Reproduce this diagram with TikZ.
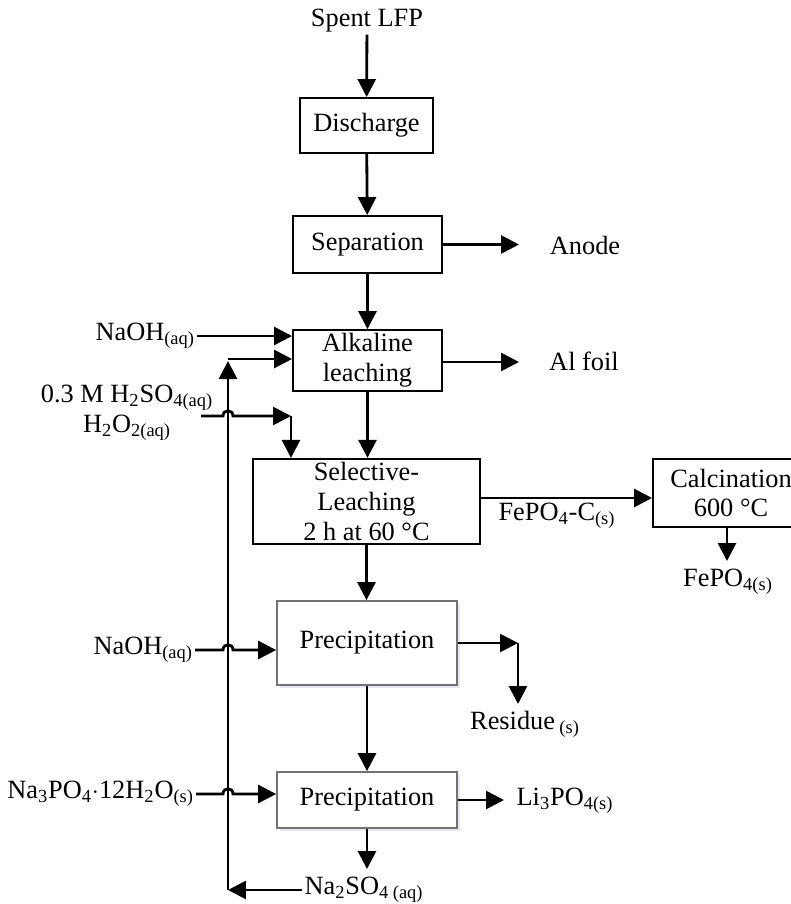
\documentclass[tikz,border=0pt]{standalone}
\usepackage{fontspec}
\setmainfont{Liberation Serif}
\usetikzlibrary{arrows.meta, shadows}

\begin{document}
\begin{tikzpicture}
        [x=0.02cm, y=-0.02cm,
        font=\fontsize{15}{17}\selectfont,
        box/.style={draw=black, line width=1.1pt, align=center, inner sep=2pt},
        softbox/.style={draw=black!55, line width=1pt, fill=white, inner sep=2pt,
          drop shadow={opacity=0.35, fill=blue!30!gray!40, shadow xshift=1.5pt, shadow yshift=-1.5pt}},
        lbl/.style={inner sep=1pt, align=center},
        arr/.style={-{Triangle[length=0.36cm, width=0.36cm]}, line width=1.6pt}]
        \clip (0,0) rectangle (791,904);
        % process boxes
        \node (spent) at (367,21) [lbl] {Spent LFP};
        \node (dis) at (366.5,125.5) [box, minimum width=2.66cm, minimum height=1.1cm] {Discharge};
        \node (sep) at (367.5,244.5) [box, minimum width=2.98cm, minimum height=1.14cm] {Separation};
        \node (alk) at (367.5,360.5) [box, minimum width=2.98cm, minimum height=1.14cm] {Alkaline\\leaching};
        \node (sel) at (366.5,501.5) [box, minimum width=4.54cm, minimum height=1.66cm] {Selective-\\Leaching\\2 h at 60 °C};
        \node (calc) at (731,493) [box, minimum width=3.12cm, minimum height=1.36cm] {Calcination\\600 °C};
        \node (pre1) at (367,643) [softbox, minimum width=3.6cm, minimum height=1.68cm] {Precipitation};
        \node (pre2) at (367,800) [softbox, minimum width=3.6cm, minimum height=1.12cm] {Precipitation};
        % products
        \node (anode) at (585,245) [lbl] {Anode};
        \node (alfoil) at (584,361) [lbl] {Al foil};
        \node (fepo4c) at (557,516) [lbl] {FePO\textsubscript{4}-C\textsubscript{(s)}};
        \node (fepo4) at (728,582) [lbl] {FePO\textsubscript{4(s)}};
        \node (resid) at (525,724) [lbl] {Residue\,\textsubscript{(s)}};
        \node (li3po4) at (565,801) [lbl] {Li\textsubscript{3}PO\textsubscript{4(s)}};
        \node (na2so4) at (364,890) [lbl] {Na\textsubscript{2}SO\textsubscript{4 (aq)}};
        % reagents
        \node (naoh1) at (197,336) [lbl, anchor=east] {NaOH\textsubscript{(aq)}};
        \node (acid) at (127,413) [lbl] {0.3 M H\textsubscript{2}SO\textsubscript{4(aq)}\\H\textsubscript{2}O\textsubscript{2(aq)}};
        \node (naoh2) at (195,650) [lbl, anchor=east] {NaOH\textsubscript{(aq)}};
        \node (na3po4) at (196,794) [lbl, anchor=east] {Na\textsubscript{3}PO\textsubscript{4}$\cdot$12H\textsubscript{2}O\textsubscript{(s)}};
        % corner points
        \coordinate (anodeend) at (519,244.5);
        \coordinate (alend) at (519,362);
        \coordinate (acidstart) at (201,416);
        \coordinate (acidturn) at (291,416);
        \coordinate (feend) at (727,561);
        \coordinate (rescorner) at (518,643);
        \coordinate (resend) at (518,704);
        \coordinate (liend) at (504,800);
        \coordinate (naend) at (367,869);
        \coordinate (rbot) at (228,890);
        \coordinate (rtop) at (228,361);
        % main line
        \draw[arr] (spent) -- (dis);
        \draw[arr] (dis) -- (sep);
        \draw[arr] (sep) -- (alk);
        \draw[arr] (alk) -- (alk.south |- sel.north);
        \draw[arr] (sel.south) -- (sel.south |- pre1.north);
        \draw[arr] (pre1) -- (pre2);
        \draw[arr] (pre2.south) -- (naend);
        % side streams
        \draw[arr] (sep.east) -- (anodeend);
        \draw[arr] (alk.east |- alend) -- (alend);
        \draw[arr] ([yshift=0.07cm]sel.east) -- ([yshift=0.07cm]sel.east -| calc.west);
        \draw[arr] (feend |- calc.south) -- (feend);
        \draw[arr] (pre1.east) -- (rescorner);
        \draw[arr] (rescorner) -- (resend);
        \draw[arr] (pre2.east) -- (liend);
        % feeds, hopping over the recycle line
        \draw[arr] (naoh1.east) -- (naoh1.east -| alk.west);
        \draw[arr] (acidstart) -- ++(22,0) .. controls +(0,-7) and +(0,-7) .. ++(10,0) -- (acidturn);
        \draw[arr] (acidturn) -- (acidturn |- sel.north);
        \draw[arr] (naoh2.east) -- ++(28,0) .. controls +(0,-7) and +(0,-7) .. ++(10,0) -- (naoh2.east -| pre1.west);
        \draw[arr] (na3po4.east) -- ++(27,0) .. controls +(0,-7) and +(0,-7) .. ++(10,0) -- (na3po4.east -| pre2.west);
        % recycle of the filtrate
        \draw[arr] (na2so4.west) -- (rbot);
        \draw[arr] (rbot) -- (rtop);
        \draw[arr] ([yshift=0.04cm]rtop) -- ([yshift=0.04cm]rtop -| alk.west);
\end{tikzpicture}
\end{document}
